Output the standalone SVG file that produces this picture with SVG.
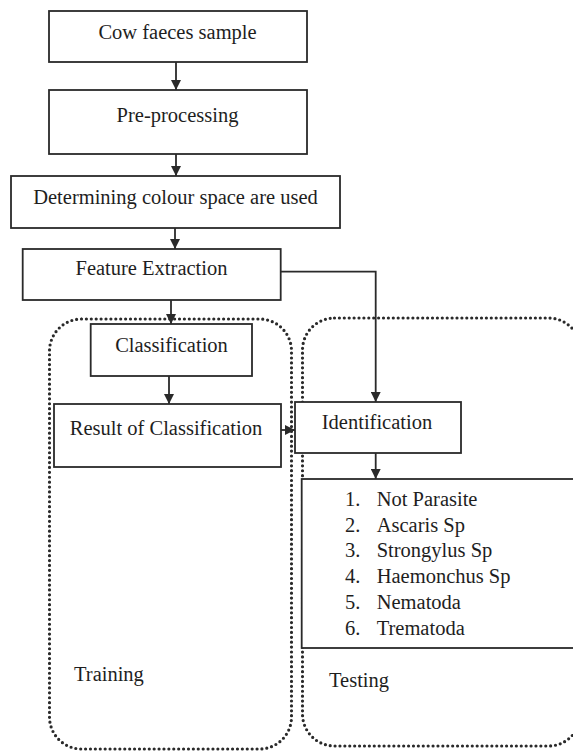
<svg xmlns="http://www.w3.org/2000/svg" width="573" height="753" viewBox="0 0 573 753">
<style>
.box{fill:#fff;stroke:#2a2a2a;stroke-width:1.8}
.t{font-family:"Liberation Serif","Times New Roman",serif;font-size:20.5px;fill:#1e1e1e}
.c{text-anchor:middle}
.dot{fill:none;stroke:#2a2a2a;stroke-width:3.2;stroke-linecap:round;stroke-dasharray:0 4.9}
.ln{fill:none;stroke:#2a2a2a;stroke-width:1.8}
</style>
<defs>
<marker id="ah" markerUnits="userSpaceOnUse" markerWidth="10" markerHeight="10" refX="10" refY="5" orient="auto">
<path d="M0,0 L10,5 L0,10 Z" fill="#2a2a2a"/>
</marker>
</defs>
<rect width="573" height="753" fill="#fff"/>
<g id="training-group">
<rect class="dot" x="49.5" y="319" width="242" height="430" rx="32"/>
<text class="t" x="74" y="681">Training</text>
</g>
<g id="testing-group">
<rect class="dot" x="302.5" y="318" width="278" height="428" rx="32"/>
<text class="t" x="329" y="687">Testing</text>
</g>
<g id="n1"><rect class="box" x="49" y="11" width="258" height="51"/><text class="t c" x="177.5" y="39">Cow faeces sample</text></g>
<g id="n2"><rect class="box" x="49" y="90" width="258" height="64"/><text class="t c" x="177.5" y="122">Pre-processing</text></g>
<g id="n3"><rect class="box" x="11" y="176" width="329" height="52"/><text class="t c" x="175.5" y="204">Determining colour space are used</text></g>
<g id="n4"><rect class="box" x="22.7" y="249" width="258" height="51"/><text class="t c" x="151.5" y="275">Feature Extraction</text></g>
<g id="n5"><rect class="box" x="90.7" y="324" width="161.3" height="52"/><text class="t c" x="171.5" y="352">Classification</text></g>
<g id="n6"><rect class="box" x="54" y="404" width="227" height="63"/><text class="t c" x="166" y="435">Result of Classification</text></g>
<g id="n7"><rect class="box" x="295" y="402" width="166" height="51"/><text class="t c" x="377" y="429">Identification</text></g>
<g id="n8"><rect class="box" x="301.7" y="479" width="290" height="169"/>
<text class="t" y="506"><tspan x="345">1.</tspan><tspan x="376.7">Not Parasite</tspan></text>
<text class="t" y="531.7"><tspan x="345">2.</tspan><tspan x="376.7">Ascaris Sp</tspan></text>
<text class="t" y="557.4"><tspan x="345">3.</tspan><tspan x="376.7">Strongylus Sp</tspan></text>
<text class="t" y="583.1"><tspan x="345">4.</tspan><tspan x="376.7">Haemonchus Sp</tspan></text>
<text class="t" y="608.8"><tspan x="345">5.</tspan><tspan x="376.7">Nematoda</tspan></text>
<text class="t" y="634.5"><tspan x="345">6.</tspan><tspan x="376.7">Trematoda</tspan></text>
</g>
<g id="connectors">
<line class="ln" x1="176" y1="62" x2="176" y2="90" marker-end="url(#ah)"/>
<line class="ln" x1="176" y1="154" x2="176" y2="176" marker-end="url(#ah)"/>
<line class="ln" x1="175" y1="228" x2="175" y2="249" marker-end="url(#ah)"/>
<line class="ln" x1="171" y1="300" x2="171" y2="324" marker-end="url(#ah)"/>
<line class="ln" x1="169" y1="376" x2="169" y2="404" marker-end="url(#ah)"/>
<polyline class="ln" points="280.7,271.7 375.7,271.7 375.7,402" marker-end="url(#ah)"/>
<line class="ln" x1="281" y1="430" x2="295" y2="430" marker-end="url(#ah)"/>
<line class="ln" x1="375.7" y1="453" x2="375.7" y2="479" marker-end="url(#ah)"/>
</g>
</svg>
